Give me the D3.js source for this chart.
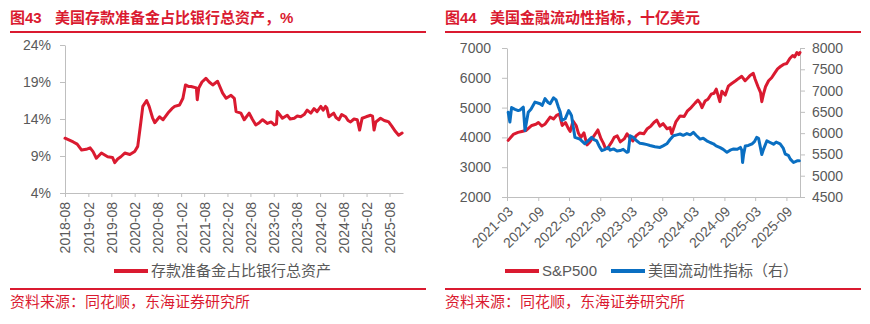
<!DOCTYPE html>
<html>
<head>
<meta charset="utf-8">
<script src="https://cdn.jsdelivr.net/npm/d3@7"></script>
<style>
  html, body { margin: 0; padding: 0; background: #fff; }
  svg { display: block; font-family: "Liberation Sans", Arial, "Noto Sans CJK SC", sans-serif; }
</style>
</head>
<body>
<svg id="chart" width="870" height="324"></svg>
<script>
// ---- Figure 43: reserves as a share of total bank assets (%) ----
const reserveDates = [
  "2018-08-01","2018-10-05","2018-11-05","2018-12-10","2019-01-15","2019-02-15","2019-03-10","2019-04-05",
  "2019-05-15","2019-07-03","2019-08-10","2019-08-28","2019-09-20","2019-10-15","2019-11-15","2019-12-25",
  "2020-02-01","2020-02-25","2020-03-20","2020-04-05","2020-05-05","2020-05-25","2020-06-20","2020-07-08",
  "2020-08-15","2020-09-12","2020-10-20","2020-11-20","2020-12-12","2021-01-20","2021-02-15","2021-03-07",
  "2021-03-30","2021-04-20","2021-06-01","2021-06-08","2021-06-20","2021-07-15","2021-08-15","2021-09-10",
  "2021-10-08","2021-11-15","2021-12-25","2022-01-22","2022-03-01","2022-03-27","2022-04-10","2022-05-18",
  "2022-06-13","2022-07-22","2022-08-15","2022-09-12","2022-10-10","2022-11-05","2022-12-13","2023-01-12",
  "2023-02-05","2023-02-22","2023-03-01","2023-04-10","2023-05-18","2023-06-10","2023-07-12","2023-08-05",
  "2023-09-01","2023-09-28","2023-10-22","2023-11-20","2023-12-15","2024-01-08","2024-02-07","2024-02-25",
  "2024-03-15","2024-03-25","2024-04-10","2024-05-18","2024-06-05","2024-06-28","2024-07-20","2024-08-20",
  "2024-09-08","2024-09-28","2024-10-25","2024-11-20","2024-12-08","2024-12-28","2025-01-28","2025-03-05",
  "2025-03-20","2025-04-01","2025-04-15","2025-05-22","2025-06-20","2025-07-10","2025-07-25","2025-08-20",
  "2025-09-17","2025-10-12","2025-11-08"
];
const reserveShare = [
  11.4,10.9,10.6,9.8,9.9,10.1,9.6,8.7,
  9.4,8.9,8.8,8.1,8.6,8.9,9.4,9.2,
  9.6,10.3,13.5,15.7,16.5,15.7,14.2,13.5,
  14.3,13.9,14.8,15.4,15.7,15.9,16.8,18.6,
  18.4,18.4,18.2,16.6,18.2,19.0,19.5,19.0,
  18.6,19.1,17.5,16.8,17.2,16.8,15.0,14.8,
  13.9,14.8,14.0,13.2,13.5,13.9,13.4,13.6,
  13.2,13.3,15.0,14.1,14.5,14.0,14.1,14.4,
  14.3,14.6,15.2,14.8,15.4,15.0,15.7,15.2,
  15.7,15.5,14.3,14.8,14.2,13.9,14.6,14.3,
  13.8,13.6,14.0,13.9,12.5,14.1,14.3,14.5,
  14.4,12.5,13.6,14.1,13.8,13.7,13.6,13.0,
  12.3,11.8,12.1
];
const reserveTicksY = [4, 9, 14, 19, 24];
const reserveTicksX = ["2018-08","2019-02","2019-08","2020-02","2020-08","2021-02","2021-08","2022-02",
  "2022-08","2023-02","2023-08","2024-02","2024-08","2025-02","2025-08"];

// ---- Figure 44: S&P 500 vs US liquidity index (bn USD) ----
const spxDates = [
  "2021-03-08","2021-04-07","2021-05-05","2021-05-27","2021-06-20","2021-07-25","2021-08-18","2021-09-02",
  "2021-09-22","2021-10-12","2021-11-10","2021-11-30","2021-12-20","2022-01-03","2022-01-20","2022-02-08",
  "2022-02-25","2022-03-08","2022-03-25","2022-04-12","2022-04-25","2022-05-10","2022-05-28","2022-06-15",
  "2022-07-02","2022-07-26","2022-08-18","2022-09-06","2022-09-20","2022-09-30","2022-10-12","2022-11-08",
  "2022-11-22","2022-12-10","2022-12-28","2023-01-20","2023-02-06","2023-02-24","2023-03-12","2023-03-30",
  "2023-04-22","2023-05-15","2023-06-03","2023-06-26","2023-07-14","2023-07-31","2023-08-18","2023-09-06",
  "2023-09-29","2023-10-17","2023-10-27","2023-11-21","2023-12-15","2024-01-08","2024-01-26","2024-02-18",
  "2024-03-12","2024-03-29","2024-04-11","2024-04-22","2024-05-10","2024-05-27","2024-06-15","2024-07-02",
  "2024-07-15","2024-07-26","2024-08-05","2024-08-17","2024-09-06","2024-09-24","2024-10-12","2024-11-06",
  "2024-11-24","2024-12-12","2025-01-01","2025-01-18","2025-01-30","2025-02-18","2025-03-01","2025-03-18",
  "2025-04-02","2025-04-09","2025-04-19","2025-05-01","2025-05-19","2025-06-06","2025-06-23","2025-07-11",
  "2025-07-28","2025-08-15","2025-09-03","2025-09-21","2025-10-08","2025-10-20","2025-11-02","2025-11-13",
  "2025-11-20"
];
const spxValues = [
  3900,4100,4170,4200,4230,4400,4440,4500,
  4380,4450,4680,4620,4750,4780,4400,4500,
  4300,4200,4550,4400,4150,4000,4150,3750,
  3850,4050,4250,3950,3800,3650,3620,3850,
  4000,4050,3850,3950,4120,3970,3880,4050,
  4150,4120,4280,4380,4500,4580,4380,4460,
  4290,4330,4120,4530,4720,4700,4880,5000,
  5150,5250,5150,5000,5220,5280,5450,5480,
  5620,5400,5200,5550,5420,5720,5800,5900,
  5980,6050,5900,6000,6080,6150,5950,5700,
  5500,5200,5450,5700,5900,6000,6150,6300,
  6380,6450,6480,6650,6750,6700,6850,6780,
  6850
];
const liqDates = [
  "2021-03-08","2021-03-18","2021-03-28","2021-04-17","2021-05-06","2021-05-16","2021-06-05","2021-06-15",
  "2021-07-04","2021-07-20","2021-08-13","2021-09-12","2021-09-24","2021-10-11","2021-10-29","2021-11-10",
  "2021-11-30","2021-12-15","2021-12-29","2022-01-08","2022-01-18","2022-02-07","2022-02-27","2022-03-07",
  "2022-03-16","2022-03-24","2022-04-05","2022-05-04","2022-06-03","2022-06-21","2022-07-12","2022-07-26",
  "2022-08-11","2022-08-25","2022-09-10","2022-09-30","2022-10-19","2022-10-29","2022-11-18","2022-12-09",
  "2022-12-27","2023-01-14","2023-02-05","2023-02-13","2023-02-24","2023-03-14","2023-04-03","2023-04-23",
  "2023-05-12","2023-06-04","2023-06-21","2023-07-20","2023-08-19","2023-09-06","2023-09-28","2023-10-17",
  "2023-11-06","2023-11-26","2023-12-15","2024-01-02","2024-01-24","2024-02-13","2024-03-02","2024-03-18",
  "2024-04-11","2024-04-29","2024-05-20","2024-06-09","2024-06-28","2024-07-14","2024-08-07","2024-08-25",
  "2024-09-16","2024-10-05","2024-10-25","2024-11-16","2024-12-04","2024-12-12","2024-12-17","2024-12-23",
  "2025-01-02","2025-01-20","2025-02-11","2025-02-25","2025-03-10","2025-03-21","2025-03-30","2025-04-09",
  "2025-04-19","2025-05-09","2025-05-28","2025-06-17","2025-07-03","2025-07-26","2025-08-13","2025-08-25",
  "2025-09-12","2025-09-24","2025-10-13","2025-11-03","2025-11-16"
];
const liqValues = [
  6490,6260,6600,6560,6530,6540,6610,6060,
  6490,6560,6730,6690,6650,6810,6720,6690,
  6830,6780,6610,6500,6300,6340,6530,6480,
  6410,6200,5900,5860,5750,5820,5900,5850,
  5820,5700,5590,5620,5665,5600,5630,5580,
  5590,5620,5550,5560,5940,5900,5820,5760,
  5750,5730,5710,5680,5665,5700,5750,5850,
  5940,5960,5980,5950,5990,5960,6020,5950,
  5860,5880,5820,5780,5750,5700,5660,5620,
  5550,5600,5630,5620,5665,5600,5310,5500,
  5700,5710,5750,5800,5900,5880,5700,5500,
  5620,5820,5780,5740,5790,5750,5650,5510,
  5480,5390,5310,5350,5350
];
const spxTicks = [2000, 3000, 4000, 5000, 6000, 7000];
const liqTicks = [4500, 5000, 5500, 6000, 6500, 7000, 7500, 8000];
const marketTicksX = ["2021-03","2021-09","2022-03","2022-09","2023-03","2023-09","2024-03","2024-09","2025-03","2025-09"];

const RED = "#da1a30", BLUE = "#0a6fc2", AXIS = "#bfbfbf", TEXT = "#595959";
const parseDay = d3.timeParse("%Y-%m-%d");
const parseMonth = d3.timeParse("%Y-%m");
const fmtMonth = d3.timeFormat("%Y-%m");
const fmtInt = d3.format("d");

const svg = d3.select("#chart");

function styleAxis(g) {
  g.attr("font-family", null).attr("font-size", 14);
  g.select(".domain").attr("stroke", AXIS);
  g.selectAll(".tick line").attr("stroke", AXIS);
  g.selectAll(".tick text").attr("fill", TEXT);
}

function panelFrame(x0, x1, num, title) {
  svg.append("text").attr("x", x0).attr("y", 23)
    .attr("fill", RED).attr("font-size", 15).attr("font-weight", "bold").text(num);
  svg.append("text").attr("x", x0 + 45).attr("y", 23)
    .attr("fill", RED).attr("font-size", 15).attr("font-weight", "bold").text(title);
  svg.append("line").attr("x1", x0).attr("x2", x1).attr("y1", 32).attr("y2", 32)
    .attr("stroke", RED).attr("stroke-width", 2);
  svg.append("line").attr("x1", x0).attr("x2", x1).attr("y1", 289).attr("y2", 289)
    .attr("stroke", RED).attr("stroke-width", 2);
  svg.append("text").attr("x", x0).attr("y", 307)
    .attr("fill", RED).attr("font-size", 15).text("资料来源：同花顺，东海证券研究所");
}

function legendItem(x, y, color, label) {
  svg.append("line").attr("x1", x).attr("x2", x + 34).attr("y1", y).attr("y2", y)
    .attr("stroke", color).attr("stroke-width", 4);
  svg.append("text").attr("x", x + 37).attr("y", y).attr("dy", "0.35em")
    .attr("fill", TEXT).attr("font-size", 15).text(label);
}

// ================= Left panel =================
panelFrame(10, 426, "图43", "美国存款准备金占比银行总资产，%");

const rx = d3.scaleTime()
  .domain([parseDay("2018-08-01"), parseDay("2025-11-15")])
  .range([65, 403]);
const ry = d3.scaleLinear().domain([4, 24]).range([193, 45]);

svg.append("g").attr("transform", "translate(65,0)")
  .call(d3.axisLeft(ry).tickValues(reserveTicksY).tickFormat(d => d + "%").tickSize(5).tickPadding(9).tickSizeOuter(0))
  .call(styleAxis);

svg.append("g").attr("transform", "translate(0,193)")
  .call(d3.axisBottom(rx).tickValues(reserveTicksX.map(parseMonth)).tickFormat(fmtMonth).tickSize(4).tickSizeOuter(0))
  .call(styleAxis)
  .call(g => g.selectAll(".tick text")
    .attr("transform", "rotate(-90)").attr("x", -9).attr("y", 0).attr("dy", "0.35em")
    .attr("text-anchor", "end"));

const reserveSeries = reserveDates.map((d, i) => ({ date: parseDay(d), v: reserveShare[i] }));
svg.append("path").datum(reserveSeries)
  .attr("fill", "none").attr("stroke", RED).attr("stroke-width", 3)
  .attr("stroke-linejoin", "round").attr("stroke-linecap", "round")
  .attr("d", d3.line().x(d => rx(d.date)).y(d => ry(d.v)));

legendItem(114, 271, RED, "存款准备金占比银行总资产");

// ================= Right panel =================
panelFrame(445, 861, "图44", "美国金融流动性指标，十亿美元");

const mx = d3.scaleTime()
  .domain([parseDay("2021-03-01"), parseDay("2025-11-20")])
  .range([507, 800]);
const yL = d3.scaleLinear().domain([2000, 7000]).range([197, 48]);
const yR = d3.scaleLinear().domain([4500, 8000]).range([197, 48]);

svg.append("g").attr("transform", "translate(507,0)")
  .call(d3.axisLeft(yL).tickValues(spxTicks).tickFormat(fmtInt).tickSize(5).tickPadding(11).tickSizeOuter(0))
  .call(styleAxis);

svg.append("g").attr("transform", "translate(800,0)")
  .call(d3.axisRight(yR).tickValues(liqTicks).tickFormat(fmtInt).tickSize(5).tickPadding(7).tickSizeOuter(0))
  .call(styleAxis);

svg.append("g").attr("transform", "translate(0,197)")
  .call(d3.axisBottom(mx).tickValues(marketTicksX.map(parseMonth)).tickFormat(fmtMonth).tickSize(4).tickSizeOuter(0))
  .call(styleAxis)
  .call(g => g.selectAll(".tick text")
    .attr("x", 0).attr("y", 0).attr("dy", "0.35em")
    .attr("text-anchor", "end")
    .attr("transform", "translate(3,12) rotate(-45)"));

const spxSeries = spxDates.map((d, i) => ({ date: parseDay(d), v: spxValues[i] }));
const liqSeries = liqDates.map((d, i) => ({ date: parseDay(d), v: liqValues[i] }));

svg.append("path").datum(spxSeries)
  .attr("fill", "none").attr("stroke", RED).attr("stroke-width", 3)
  .attr("stroke-linejoin", "round").attr("stroke-linecap", "round")
  .attr("d", d3.line().x(d => mx(d.date)).y(d => yL(d.v)));

svg.append("path").datum(liqSeries)
  .attr("fill", "none").attr("stroke", BLUE).attr("stroke-width", 3)
  .attr("stroke-linejoin", "round").attr("stroke-linecap", "round")
  .attr("d", d3.line().x(d => mx(d.date)).y(d => yR(d.v)));

legendItem(505, 271, RED, "S&P500");
legendItem(611, 271, BLUE, "美国流动性指标（右）");
</script>
</body>
</html>
